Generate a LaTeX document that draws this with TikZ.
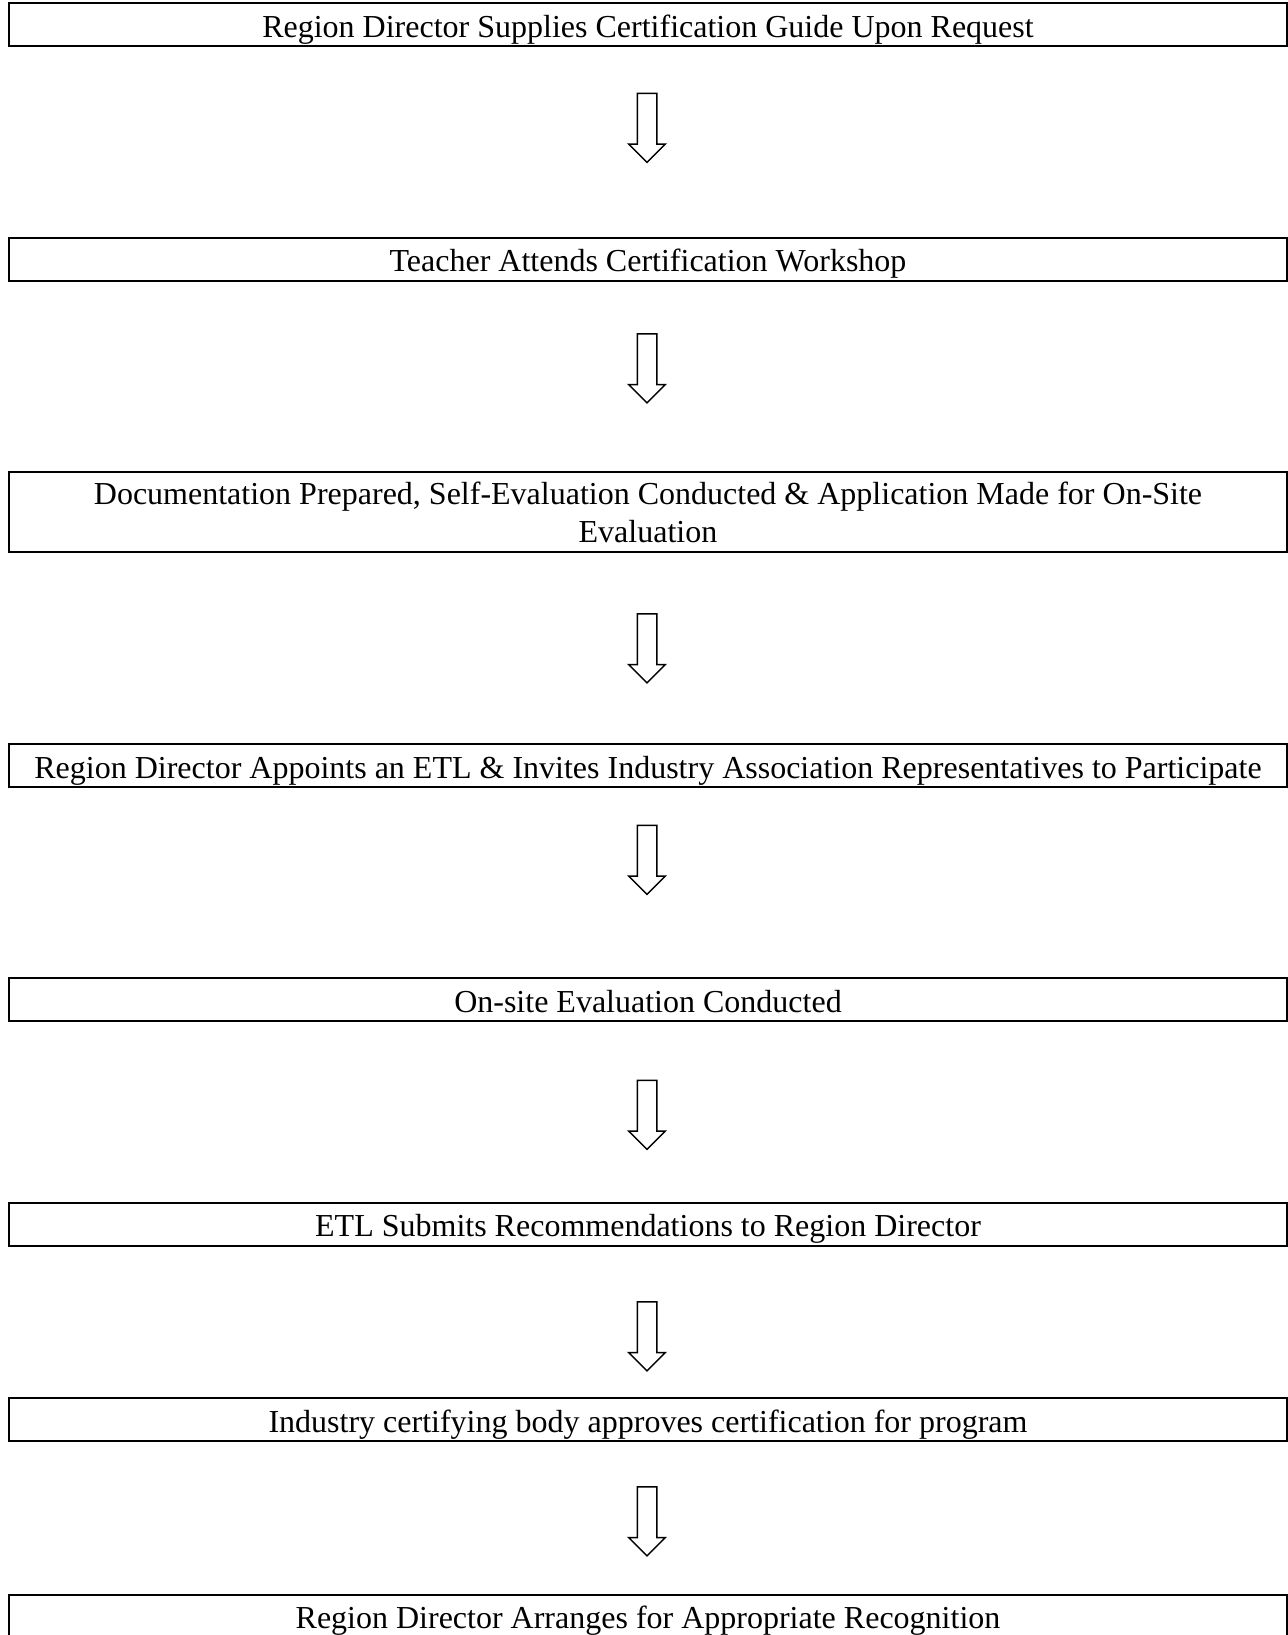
\documentclass[tikz,border=0pt]{standalone}
\usepackage{fontspec}
\setmainfont{Liberation Serif}
\usetikzlibrary{shapes.arrows}

\begin{document}
\begin{tikzpicture}[x=0.5pt, y=-0.5pt,
    stepbox/.style={draw, line width=1pt, minimum width=639pt, minimum height=21.5pt,
        inner sep=0pt, align=center, font=\fontsize{16}{19}\selectfont},
    oneline/.style={stepbox, text height=14pt, text depth=1.2pt},
    downarrow/.style={draw, line width=0.75pt, single arrow, rotate=-90,
        inner xsep=0pt, inner ysep=4.5pt, minimum height=34.5pt,
        single arrow head extend=4.25pt, single arrow tip angle=90}]
    \clip (0, 0) rectangle (1288, 1635);
    \useasboundingbox (0, 0) rectangle (1288, 1635);

    % Steps
    \node[oneline] (guide) at (648, 24.5) {Region Director Supplies Certification Guide Upon Request};
    \node[oneline] (workshop) at (648, 259) {Teacher Attends Certification Workshop};
    \node[stepbox, minimum height=40pt] (docs) at (648, 512) {Documentation Prepared, Self-Evaluation Conducted \& Application Made for On-Site\\Evaluation};
    \node[oneline] (etl) at (648, 765.5) {Region Director Appoints an ETL \& Invites Industry Association Representatives to Participate};
    \node[oneline] (onsite) at (648, 999.5) {On-site Evaluation Conducted};
    \node[oneline] (submit) at (648, 1224) {ETL Submits Recommendations to Region Director};
    \node[oneline] (approve) at (648, 1419.5) {Industry certifying body approves certification for program};
    \node[oneline] (recog) at (648, 1616) {Region Director Arranges for Appropriate Recognition};

    % Arrows between steps
    \foreach \i/\y in {1/123, 2/363.5, 3/643.5, 4/855, 5/1110, 6/1331.5, 7/1516.5} {
        \node[downarrow] (arr\i) at (647, \y) {};
    }
\end{tikzpicture}
\end{document}
